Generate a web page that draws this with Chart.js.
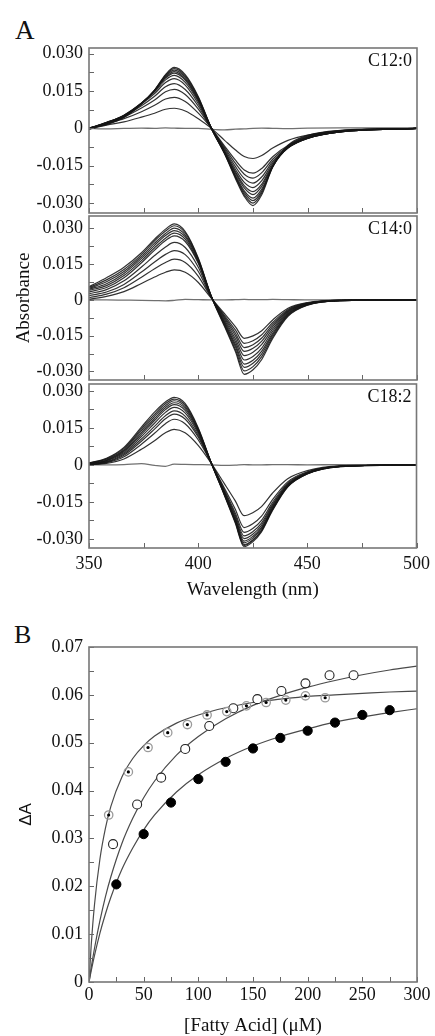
<!DOCTYPE html>
<html>
<head>
<meta charset="utf-8">
<script src="https://cdn.jsdelivr.net/npm/chart.js@4.4.1/dist/chart.umd.min.js"></script>
<style>
  html, body { margin: 0; padding: 0; background: #fff; }
  body { width: 435px; height: 1036px; position: relative; overflow: hidden; }
  canvas { position: absolute; left: 0; }
  .tag { position: absolute; font-family: "Liberation Serif", serif; color: #111; }
</style>
</head>
<body>
<div class="tag" style="left:15px;top:17px;font-size:27px;line-height:27px">A</div>
<div class="tag" style="left:14px;top:622px;font-size:26px;line-height:26px">B</div>
<canvas id="c12" width="435" height="215" style="top:18px"></canvas>
<canvas id="c14" width="435" height="214" style="top:186px"></canvas>
<canvas id="c18" width="435" height="246" style="top:354px"></canvas>
<canvas id="fa" width="435" height="419" style="top:617px"></canvas>
<script>
// ---- panel A: difference spectra ----
const wavelengths = [350, 358, 366, 374, 380, 385, 389, 394, 400, 406, 412, 417, 421, 425, 429, 434, 441, 450, 465, 500];

const c12Spectra = [
  [-0.0004, 0.0013, 0.0026, 0.0045, 0.0061, 0.0077, 0.0081, 0.0070, 0.0039, 0, -0.0048, -0.0087, -0.0113, -0.0121, -0.0109, -0.0079, -0.0048, -0.0027, -0.0010, 0],
  [-0.0003, 0.0019, 0.0039, 0.0067, 0.0093, 0.0118, 0.0125, 0.0108, 0.0061, 0, -0.0071, -0.0128, -0.0167, -0.0180, -0.0161, -0.0114, -0.0069, -0.0037, -0.0014, 0],
  [-0.0002, 0.0022, 0.0046, 0.0082, 0.0114, 0.0147, 0.0157, 0.0136, 0.0077, 0, -0.0077, -0.0141, -0.0184, -0.0200, -0.0178, -0.0124, -0.0073, -0.0039, -0.0014, 0],
  [-0.0001, 0.0023, 0.0050, 0.0091, 0.0129, 0.0167, 0.0180, 0.0156, 0.0089, 0, -0.0083, -0.0154, -0.0201, -0.0220, -0.0195, -0.0133, -0.0076, -0.0040, -0.0014, 0],
  [0, 0.0024, 0.0052, 0.0098, 0.0140, 0.0184, 0.0200, 0.0174, 0.0099, 0, -0.0089, -0.0165, -0.0217, -0.0238, -0.0210, -0.0140, -0.0078, -0.0040, -0.0014, 0],
  [0, 0.0023, 0.0053, 0.0101, 0.0147, 0.0195, 0.0213, 0.0185, 0.0107, 0, -0.0093, -0.0174, -0.0230, -0.0254, -0.0224, -0.0146, -0.0079, -0.0039, -0.0013, 0],
  [0, 0.0022, 0.0053, 0.0102, 0.0151, 0.0202, 0.0222, 0.0194, 0.0112, 0, -0.0095, -0.0180, -0.0239, -0.0266, -0.0233, -0.0149, -0.0078, -0.0038, -0.0013, 0],
  [0, 0.0021, 0.0050, 0.0101, 0.0152, 0.0205, 0.0228, 0.0199, 0.0116, 0, -0.0098, -0.0188, -0.0251, -0.0280, -0.0244, -0.0153, -0.0077, -0.0036, -0.0012, 0],
  [0.0001, 0.0019, 0.0049, 0.0101, 0.0153, 0.0209, 0.0234, 0.0205, 0.0120, 0, -0.0100, -0.0193, -0.0258, -0.0290, -0.0252, -0.0154, -0.0074, -0.0034, -0.0010, 0],
  [0.0001, 0.0017, 0.0046, 0.0100, 0.0154, 0.0213, 0.0240, 0.0211, 0.0124, 0, -0.0101, -0.0197, -0.0266, -0.0300, -0.0259, -0.0155, -0.0071, -0.0031, -0.0009, 0],
  [0.0002, 0.0015, 0.0044, 0.0098, 0.0154, 0.0216, 0.0245, 0.0216, 0.0127, 0, -0.0102, -0.0202, -0.0273, -0.0310, -0.0267, -0.0155, -0.0068, -0.0028, -0.0008, 0]
];
const c12Base = [0, -0.0002, 0, 0.0001, 0, 0.0002, 0.0001, 0, 0, -0.0004, -0.0006, -0.0003, -0.0002, 0, 0.0001, 0, -0.0001, 0.0001, 0.0002, 0.0002];

const c14Spectra = [
  [0.0002, 0.0015, 0.0035, 0.0069, 0.0096, 0.0116, 0.0126, 0.0116, 0.0073, 0.0006, -0.0058, -0.0113, -0.0161, -0.0151, -0.0129, -0.0084, -0.0035, -0.0011, -0.0002, 0],
  [0.0009, 0.0024, 0.0051, 0.0095, 0.0131, 0.0157, 0.0171, 0.0157, 0.0099, 0.0008, -0.0066, -0.0127, -0.0182, -0.0171, -0.0146, -0.0095, -0.0040, -0.0013, -0.0002, 0],
  [0.0018, 0.0033, 0.0065, 0.0117, 0.0159, 0.0191, 0.0207, 0.0190, 0.0119, 0.0010, -0.0072, -0.0140, -0.0200, -0.0188, -0.0160, -0.0104, -0.0044, -0.0014, -0.0002, 0],
  [0.0026, 0.0043, 0.0080, 0.0138, 0.0186, 0.0222, 0.0241, 0.0220, 0.0137, 0.0011, -0.0078, -0.0151, -0.0216, -0.0203, -0.0173, -0.0112, -0.0048, -0.0015, -0.0002, 0],
  [0.0034, 0.0052, 0.0093, 0.0156, 0.0209, 0.0249, 0.0269, 0.0245, 0.0153, 0.0012, -0.0084, -0.0164, -0.0234, -0.0220, -0.0187, -0.0122, -0.0051, -0.0016, -0.0002, 0],
  [0.0040, 0.0060, 0.0102, 0.0165, 0.0219, 0.0259, 0.0280, 0.0255, 0.0158, 0.0012, -0.0091, -0.0176, -0.0252, -0.0237, -0.0202, -0.0131, -0.0055, -0.0018, -0.0003, 0],
  [0.0044, 0.0068, 0.0111, 0.0174, 0.0229, 0.0270, 0.0291, 0.0264, 0.0163, 0.0013, -0.0097, -0.0188, -0.0269, -0.0253, -0.0215, -0.0140, -0.0059, -0.0019, -0.0003, 0],
  [0.0048, 0.0076, 0.0119, 0.0182, 0.0238, 0.0279, 0.0301, 0.0272, 0.0168, 0.0013, -0.0102, -0.0198, -0.0283, -0.0266, -0.0226, -0.0147, -0.0062, -0.0020, -0.0003, 0],
  [0.0052, 0.0084, 0.0128, 0.0190, 0.0248, 0.0289, 0.0311, 0.0281, 0.0172, 0.0013, -0.0107, -0.0209, -0.0298, -0.0280, -0.0238, -0.0155, -0.0066, -0.0021, -0.0003, 0],
  [0.0055, 0.0093, 0.0137, 0.0198, 0.0255, 0.0297, 0.0319, 0.0287, 0.0175, 0.0013, -0.0112, -0.0218, -0.0312, -0.0293, -0.0250, -0.0162, -0.0069, -0.0022, -0.0003, 0]
];
const c14Base = [0, 0, -0.0001, -0.0002, -0.0003, -0.0004, -0.0002, 0.0002, 0.0001, 0, 0, 0.0001, 0.0002, 0.0001, 0.0001, 0.0002, 0.0001, 0, 0.0001, 0.0001];

const c18Spectra = [
  [0, 0.0006, 0.0024, 0.0063, 0.0098, 0.0130, 0.0144, 0.0130, 0.0079, 0.0006, -0.0076, -0.0146, -0.0206, -0.0194, -0.0169, -0.0115, -0.0056, -0.0023, -0.0004, 0],
  [0.0001, 0.0009, 0.0033, 0.0084, 0.0128, 0.0167, 0.0185, 0.0167, 0.0102, 0.0007, -0.0094, -0.0180, -0.0254, -0.0239, -0.0208, -0.0142, -0.0069, -0.0028, -0.0005, 0],
  [0.0001, 0.0011, 0.0039, 0.0096, 0.0145, 0.0187, 0.0206, 0.0186, 0.0113, 0.0008, -0.0101, -0.0195, -0.0274, -0.0258, -0.0225, -0.0153, -0.0074, -0.0030, -0.0005, 0],
  [0.0002, 0.0013, 0.0044, 0.0105, 0.0156, 0.0199, 0.0219, 0.0198, 0.0120, 0.0008, -0.0107, -0.0204, -0.0288, -0.0271, -0.0236, -0.0161, -0.0078, -0.0032, -0.0006, 0],
  [0.0003, 0.0016, 0.0049, 0.0115, 0.0169, 0.0213, 0.0233, 0.0211, 0.0128, 0.0008, -0.0111, -0.0212, -0.0299, -0.0281, -0.0245, -0.0167, -0.0081, -0.0033, -0.0006, 0],
  [0.0004, 0.0018, 0.0054, 0.0124, 0.0180, 0.0224, 0.0244, 0.0221, 0.0134, 0.0008, -0.0114, -0.0219, -0.0309, -0.0290, -0.0253, -0.0173, -0.0083, -0.0034, -0.0006, 0],
  [0.0005, 0.0020, 0.0058, 0.0131, 0.0188, 0.0232, 0.0252, 0.0229, 0.0139, 0.0008, -0.0117, -0.0224, -0.0316, -0.0297, -0.0259, -0.0177, -0.0085, -0.0035, -0.0006, 0],
  [0.0006, 0.0023, 0.0062, 0.0139, 0.0197, 0.0240, 0.0260, 0.0236, 0.0143, 0.0008, -0.0120, -0.0229, -0.0323, -0.0304, -0.0265, -0.0181, -0.0087, -0.0036, -0.0006, 0],
  [0.0007, 0.0025, 0.0067, 0.0146, 0.0205, 0.0248, 0.0267, 0.0243, 0.0147, 0.0008, -0.0121, -0.0232, -0.0327, -0.0307, -0.0268, -0.0183, -0.0088, -0.0036, -0.0007, 0],
  [0.0008, 0.0027, 0.0071, 0.0153, 0.0214, 0.0255, 0.0274, 0.0249, 0.0151, 0.0008, -0.0123, -0.0236, -0.0332, -0.0312, -0.0272, -0.0186, -0.0090, -0.0037, -0.0007, 0]
];
const c18Base = [0, 0, 0.0001, 0.0005, -0.0002, -0.0006, 0.0003, 0.0002, 0.0001, 0, -0.0002, -0.0001, 0.0001, 0, 0, 0.0001, 0.0001, 0, 0.0001, 0.0001];

const aXTicks = [350, 375, 400, 425, 450, 475, 500];
const aXLabels = [350, 400, 450, 500];
const aYTicks = [-0.030, -0.0225, -0.015, -0.0075, 0, 0.0075, 0.015, 0.0225, 0.030];
const aYMajor = [-0.030, -0.015, 0, 0.015, 0.030];
const aYText = ['-0.030', '-0.015', '0', '0.015', '0.030'];

// ---- panel B: titration ----
const pts1X = [18, 36, 54, 72, 90, 108, 126, 144, 162, 180, 198, 216];
const pts1Y = [0.0349, 0.0439, 0.0490, 0.0521, 0.0538, 0.0558, 0.0565, 0.0577, 0.0584, 0.0589, 0.0598, 0.0594];
const pts2X = [22, 44, 66, 88, 110, 132, 154, 176, 198, 220, 242];
const pts2Y = [0.0288, 0.0371, 0.0427, 0.0487, 0.0535, 0.0572, 0.0591, 0.0608, 0.0624, 0.0641, 0.0641];
const pts3X = [25, 50, 75, 100, 125, 150, 175, 200, 225, 250, 275];
const pts3Y = [0.0204, 0.0309, 0.0375, 0.0424, 0.0460, 0.0488, 0.0510, 0.0525, 0.0542, 0.0558, 0.0568];
const fitX = [0, 2, 5, 10, 15, 20, 30, 40, 50, 60, 80, 100, 125, 150, 175, 200, 225, 250, 275, 300];
const fit1Y = [0, 0.0076, 0.0161, 0.0257, 0.0321, 0.0367, 0.0428, 0.0467, 0.0494, 0.0514, 0.0541, 0.0558, 0.0573, 0.0584, 0.0591, 0.0597, 0.0600, 0.0603, 0.0606, 0.0608];
const fit2Y = [0, 0.0030, 0.0070, 0.0128, 0.0178, 0.0220, 0.0289, 0.0342, 0.0385, 0.0420, 0.0474, 0.0513, 0.0550, 0.0578, 0.0599, 0.0616, 0.0630, 0.0642, 0.0652, 0.0660];
const fit3Y = [0, 0.0023, 0.0055, 0.0102, 0.0142, 0.0177, 0.0235, 0.0280, 0.0318, 0.0349, 0.0397, 0.0433, 0.0467, 0.0493, 0.0513, 0.0529, 0.0543, 0.0554, 0.0563, 0.0571];

const bXTicks = [0, 25, 50, 75, 100, 125, 150, 175, 200, 225, 250, 275, 300];
const bXLabels = [0, 50, 100, 150, 200, 250, 300];
const bYTicks = [0, 0.005, 0.01, 0.015, 0.02, 0.025, 0.03, 0.035, 0.04, 0.045, 0.05, 0.055, 0.06, 0.065, 0.07];
const bYMajor = [0, 0.01, 0.02, 0.03, 0.04, 0.05, 0.06, 0.07];
const bYText = ['0', '0.01', '0.02', '0.03', '0.04', '0.05', '0.06', '0.07'];

const serif = '"Liberation Serif", "Times New Roman", serif';
const ink = '#111';

function lookup(values, texts) {
  return v => {
    const i = values.findIndex(m => Math.abs(m - v) < 1e-9);
    return i >= 0 ? texts[i] : '';
  };
}

// inward ticks, grey frame and the corner tag
const frameTicks = {
  id: 'frameTicks',
  afterDraw(chart, args, opts) {
    const { ctx, chartArea: a } = chart;
    const xs = chart.scales.x, ys = chart.scales.y;
    ctx.save();
    ctx.strokeStyle = '#666';
    ctx.lineWidth = 1;
    ctx.beginPath();
    xs.ticks.forEach(t => {
      const px = Math.round(xs.getPixelForValue(t.value)) + 0.5;
      ctx.moveTo(px, a.bottom);
      ctx.lineTo(px, a.bottom - 5);
    });
    ys.ticks.forEach(t => {
      const py = Math.round(ys.getPixelForValue(t.value)) + 0.5;
      ctx.moveTo(a.left, py);
      ctx.lineTo(a.left + 5, py);
    });
    ctx.stroke();
    ctx.strokeStyle = '#777';
    ctx.lineWidth = 1.6;
    ctx.strokeRect(a.left, a.top, a.right - a.left, a.bottom - a.top);
    if (opts.text) {
      ctx.fillStyle = ink;
      ctx.font = '18px ' + serif;
      ctx.textAlign = 'right';
      ctx.textBaseline = 'middle';
      ctx.fillText(opts.text, a.right - 5, a.top + 13);
    }
    ctx.restore();
  }
};

function spectrum(id, curves, base, yMin, yMax, tag, showX, xHeight, yTitle) {
  const sets = curves.map(c => ({
    data: wavelengths.map((w, i) => ({ x: w, y: c[i] })),
    borderColor: 'rgba(22,22,22,0.88)',
    borderWidth: 1.2
  }));
  sets.push({
    data: wavelengths.map((w, i) => ({ x: w, y: base[i] })),
    borderColor: '#707070',
    borderWidth: 1.3
  });
  new Chart(document.getElementById(id), {
    type: 'line',
    data: { datasets: sets },
    options: {
      responsive: false,
      animation: false,
      layout: { padding: { top: 30, right: 18, left: 0, bottom: 0 } },
      elements: { point: { radius: 0 }, line: { cubicInterpolationMode: 'monotone', fill: false } },
      plugins: { legend: { display: false }, tooltip: { enabled: false }, frameTicks: { text: tag } },
      scales: {
        x: {
          type: 'linear', min: 350, max: 500,
          grid: { display: false, drawTicks: false }, border: { display: false },
          afterBuildTicks: s => { s.ticks = aXTicks.map(v => ({ value: v })); },
          afterFit: s => { s.height = xHeight; },
          ticks: {
            display: showX, padding: 5, autoSkip: false, maxRotation: 0, color: ink,
            font: { family: serif, size: 18 },
            callback: v => aXLabels.includes(v) ? String(v) : ''
          },
          title: {
            display: showX, text: 'Wavelength (nm)', color: ink,
            font: { family: serif, size: 19, lineHeight: 1 }, padding: { top: 0, bottom: 0 }
          }
        },
        y: {
          min: yMin, max: yMax,
          grid: { display: false, drawTicks: false }, border: { display: false },
          afterBuildTicks: s => { s.ticks = aYTicks.map(v => ({ value: v })); },
          afterFit: s => { s.width = 89; },
          ticks: {
            padding: 6, autoSkip: false, color: ink,
            font: { family: serif, size: 18 },
            callback: lookup(aYMajor, aYText)
          },
          title: {
            display: !!yTitle, text: yTitle || '', color: ink,
            font: { family: serif, size: 19, lineHeight: 1 }, padding: { top: 15, bottom: 0 }
          }
        }
      }
    },
    plugins: [frameTicks]
  });
}

spectrum('c12', c12Spectra, c12Base, -0.0340, 0.0323, 'C12:0', false, 20, null);
spectrum('c14', c14Spectra, c14Base, -0.0336, 0.0352, 'C14:0', false, 20, 'Absorbance');
spectrum('c18', c18Spectra, c18Base, -0.0337, 0.0328, 'C18:2', true, 52, null);

function pts(xs, ys) {
  return xs.map((x, i) => ({ x: x, y: ys[i] }));
}

new Chart(document.getElementById('fa'), {
  type: 'scatter',
  data: {
    datasets: [
      { data: pts(pts1X, pts1Y), pointRadius: 1.6, pointBackgroundColor: '#000', pointBorderWidth: 0, order: 0 },
      { data: pts(pts1X, pts1Y), pointRadius: 4.2, pointBorderColor: '#9a9a9a', pointBackgroundColor: 'rgba(255,255,255,0)', pointBorderWidth: 1.3, order: 1 },
      { data: pts(pts2X, pts2Y), pointRadius: 4.5, pointBorderColor: '#222', pointBackgroundColor: '#fff', pointBorderWidth: 1.1, order: 1 },
      { data: pts(pts3X, pts3Y), pointRadius: 4.6, pointBorderColor: '#000', pointBackgroundColor: '#000', pointBorderWidth: 1, order: 1 },
      { data: pts(fitX, fit1Y), showLine: true, pointRadius: 0, borderColor: '#4a4a4a', borderWidth: 1.2, cubicInterpolationMode: 'monotone', order: 3 },
      { data: pts(fitX, fit2Y), showLine: true, pointRadius: 0, borderColor: '#4a4a4a', borderWidth: 1.2, cubicInterpolationMode: 'monotone', order: 3 },
      { data: pts(fitX, fit3Y), showLine: true, pointRadius: 0, borderColor: '#4a4a4a', borderWidth: 1.2, cubicInterpolationMode: 'monotone', order: 3 }
    ]
  },
  options: {
    responsive: false,
    animation: false,
    layout: { padding: { top: 30, right: 18, left: 0, bottom: 0 } },
    plugins: { legend: { display: false }, tooltip: { enabled: false }, frameTicks: { text: '' } },
    scales: {
      x: {
        type: 'linear', min: 0, max: 300,
        grid: { display: false, drawTicks: false }, border: { display: false },
        afterBuildTicks: s => { s.ticks = bXTicks.map(v => ({ value: v })); },
        afterFit: s => { s.height = 54; },
        ticks: {
          padding: 2, autoSkip: false, maxRotation: 0, color: ink,
          font: { family: serif, size: 18 },
          callback: v => bXLabels.includes(v) ? String(v) : ''
        },
        title: {
          display: true, text: '[Fatty Acid] (\u03bcM)', color: ink,
          font: { family: serif, size: 19, lineHeight: 1 }, padding: { top: 0, bottom: 0 }
        }
      },
      y: {
        min: 0, max: 0.07,
        grid: { display: false, drawTicks: false }, border: { display: false },
        afterBuildTicks: s => { s.ticks = bYTicks.map(v => ({ value: v })); },
        afterFit: s => { s.width = 89; },
        ticks: {
          padding: 6, autoSkip: false, color: ink,
          font: { family: serif, size: 18 },
          callback: lookup(bYMajor, bYText)
        },
        title: {
          display: true, text: '\u0394A', color: ink,
          font: { family: '"Liberation Sans", Arial, sans-serif', size: 17, lineHeight: 1 }, padding: { top: 18, bottom: 0 }
        }
      }
    }
  },
  plugins: [frameTicks]
});
</script>
</body>
</html>
